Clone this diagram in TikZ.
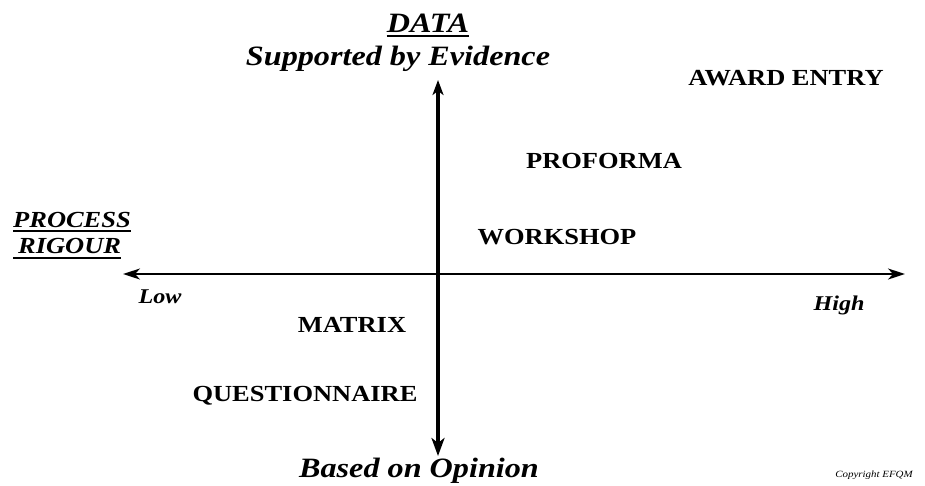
\documentclass[tikz,border=0pt]{standalone}
\usepackage{fontspec}
\setmainfont{Liberation Serif}[FakeStretch=1.15]
\usetikzlibrary{arrows.meta}
\begin{document}
\begin{tikzpicture}[x=1pt,y=-1pt,
  axis/.style={line width=#1},
  quad/.style={font=\bfseries\fontsize{23}{27}\selectfont, inner sep=0pt, anchor=base},
  pole/.style={font=\bfseries\itshape\fontsize{28}{32}\selectfont, inner sep=0pt, anchor=base},
  heading/.style={font=\bfseries\itshape\fontsize{23}{27}\selectfont, inner sep=0pt, anchor=base west},
  endlbl/.style={font=\bfseries\itshape\fontsize{21}{25}\selectfont, inner sep=0pt, anchor=base},
  note/.style={font=\itshape\fontsize{9.5}{11}\selectfont, inner sep=0pt, anchor=base},
  rule/.style={line width=2pt}
]
\useasboundingbox (0,0) rectangle (925,485);

% axis end points
\coordinate (west)  at (123,274);
\coordinate (east)  at (905,274);
\coordinate (north) at (438,80);
\coordinate (south) at (438,456);

% axes
\draw[axis=2pt, {Stealth[length=17pt,width=11pt,inset=5pt]}-{Stealth[length=17pt,width=11pt,inset=5pt]}] (west) -- (east);
\draw[axis=3.5pt, {Stealth[length=18pt,width=13pt,inset=5pt]}-{Stealth[length=15pt,width=11pt,inset=4pt]}] (south) -- (north);

% vertical axis titles
\node[pole] (data) at (428,32) {DATA};
\draw[rule] ([yshift=-4pt]data.base west) -- ([yshift=-4pt]data.base east);
\node[pole] (evidence) at (398,65) {Supported by Evidence};
\node[pole] (opinion) at (419,477) {Based on Opinion};

% horizontal axis title
\node[heading] (process) at (13,227) {PROCESS};
\draw[rule] ([yshift=-4pt]process.base west) -- ([yshift=-4pt]process.base east);
\node[heading] (rigour) at (18,253) {RIGOUR};
\draw[rule] ([xshift=-5pt,yshift=-5pt]rigour.base west) -- ([yshift=-5pt]rigour.base east);

% scale ends
\node[endlbl] (low)  at (160,303) {Low};
\node[endlbl] (high) at (839,310) {High};

% assessment approaches
\node[quad] (award)    at (786,85)  {AWARD ENTRY};
\node[quad] (proforma) at (604,168) {PROFORMA};
\node[quad] (workshop) at (557,244) {WORKSHOP};
\node[quad] (matrix)   at (352,332) {MATRIX};
\node[quad] (quest)    at (305,401) {QUESTIONNAIRE};

\node[note] (copy) at (874,477) {Copyright EFQM};
\end{tikzpicture}
\end{document}
